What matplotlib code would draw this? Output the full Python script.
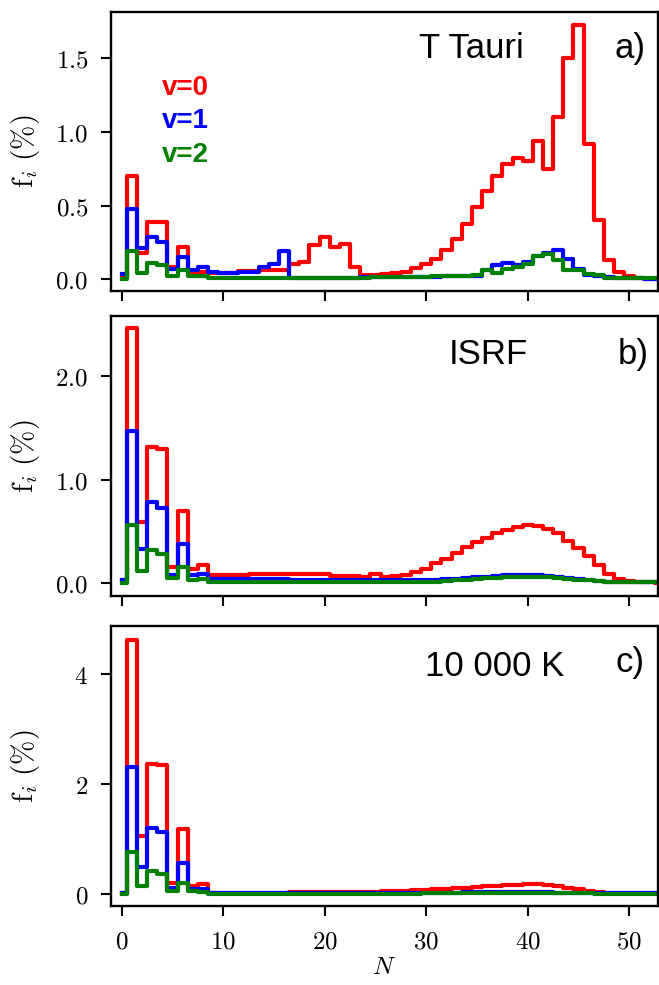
""" Level populations f_i against N for three radiation fields """

import matplotlib
matplotlib.use("Agg")
import matplotlib.pyplot as plt
from matplotlib.ticker import FuncFormatter

N_VALUES = list(range(54))

# T Tauri field
TTAU_V0 = [0.02, 0.70, 0.18, 0.39, 0.39, 0.08, 0.22, 0.05, 0.05, 0.04,
           0.045, 0.045, 0.055, 0.055, 0.065, 0.065, 0.06, 0.10, 0.12, 0.23,
           0.29, 0.22, 0.24, 0.08, 0.03, 0.03, 0.035, 0.04, 0.05, 0.075,
           0.10, 0.14, 0.20, 0.27, 0.375, 0.49, 0.60, 0.70, 0.78, 0.82,
           0.80, 0.94, 0.75, 1.10, 1.50, 1.73, 0.92, 0.40, 0.13, 0.05,
           0.02, 0.005, 0.003, 0.002]
TTAU_V1 = [0.035, 0.48, 0.21, 0.285, 0.255, 0.07, 0.15, 0.06, 0.08, 0.05,
           0.045, 0.045, 0.05, 0.05, 0.08, 0.10, 0.19, 0.01, 0.01, 0.01,
           0.01, 0.01, 0.01, 0.01, 0.012, 0.012, 0.012, 0.012, 0.015, 0.015,
           0.015, 0.018, 0.02, 0.02, 0.022, 0.025, 0.06, 0.095, 0.11, 0.095,
           0.12, 0.16, 0.18, 0.20, 0.14, 0.07, 0.03, 0.02, 0.012, 0.008,
           0.006, 0.005, 0.004, 0.003]
TTAU_V2 = [0.0, 0.19, 0.04, 0.11, 0.095, 0.02, 0.065, 0.02, 0.02, 0.01,
           0.008, 0.008, 0.008, 0.008, 0.008, 0.008, 0.008, 0.008, 0.008, 0.008,
           0.008, 0.008, 0.008, 0.01, 0.01, 0.012, 0.012, 0.015, 0.015, 0.018,
           0.018, 0.02, 0.02, 0.022, 0.025, 0.03, 0.06, 0.045, 0.07, 0.08,
           0.10, 0.155, 0.17, 0.13, 0.06, 0.06, 0.035, 0.03, 0.01, 0.008,
           0.006, 0.006, 0.006, 0.006]

# ISRF
ISRF_V0 = [0.03, 2.46, 0.59, 1.31, 1.30, 0.155, 0.70, 0.14, 0.17, 0.075,
           0.075, 0.075, 0.075, 0.09, 0.09, 0.09, 0.09, 0.09, 0.09, 0.09,
           0.09, 0.07, 0.07, 0.07, 0.06, 0.09, 0.06, 0.065, 0.075, 0.106,
           0.14, 0.19, 0.235, 0.29, 0.35, 0.40, 0.44, 0.48, 0.51, 0.54,
           0.557, 0.55, 0.525, 0.48, 0.41, 0.34, 0.26, 0.17, 0.09, 0.04,
           0.02, 0.01, 0.008, 0.005]
ISRF_V1 = [0.03, 1.47, 0.33, 0.78, 0.73, 0.075, 0.38, 0.075, 0.09, 0.04,
           0.04, 0.04, 0.04, 0.04, 0.04, 0.04, 0.04, 0.025, 0.025, 0.025,
           0.025, 0.025, 0.025, 0.025, 0.025, 0.025, 0.025, 0.025, 0.025, 0.025,
           0.028, 0.03, 0.035, 0.04, 0.05, 0.055, 0.06, 0.07, 0.075, 0.08,
           0.08, 0.075, 0.07, 0.06, 0.05, 0.04, 0.03, 0.02, 0.015, 0.01,
           0.008, 0.008, 0.008, 0.008]
ISRF_V2 = [0.0, 0.557, 0.12, 0.32, 0.28, 0.05, 0.16, 0.03, 0.04, 0.01,
           0.01, 0.01, 0.01, 0.01, 0.01, 0.01, 0.01, 0.01, 0.01, 0.01,
           0.01, 0.01, 0.01, 0.01, 0.01, 0.01, 0.01, 0.012, 0.012, 0.012,
           0.013, 0.015, 0.02, 0.025, 0.03, 0.04, 0.045, 0.05, 0.055, 0.06,
           0.06, 0.06, 0.055, 0.05, 0.04, 0.03, 0.025, 0.02, 0.015, 0.01,
           0.008, 0.008, 0.008, 0.008]

# 10 000 K blackbody
HOT_V0 = [0.02, 4.62, 1.05, 2.37, 2.35, 0.20, 1.18, 0.15, 0.19, 0.03,
          0.03, 0.03, 0.03, 0.03, 0.03, 0.03, 0.03, 0.035, 0.035, 0.035,
          0.035, 0.035, 0.035, 0.04, 0.04, 0.04, 0.05, 0.055, 0.06, 0.07,
          0.08, 0.09, 0.10, 0.11, 0.12, 0.13, 0.14, 0.155, 0.165, 0.175,
          0.18, 0.18, 0.17, 0.15, 0.12, 0.09, 0.06, 0.04, 0.03, 0.02,
          0.02, 0.02, 0.02, 0.02]
HOT_V1 = [0.02, 2.32, 0.49, 1.20, 1.14, 0.11, 0.56, 0.10, 0.10, 0.02,
          0.02, 0.02, 0.02, 0.02, 0.02, 0.02, 0.02, 0.02, 0.02, 0.02,
          0.02, 0.02, 0.02, 0.02, 0.02, 0.02, 0.02, 0.02, 0.02, 0.02,
          0.022, 0.025, 0.028, 0.03, 0.032, 0.035, 0.037, 0.04, 0.04, 0.04,
          0.04, 0.038, 0.035, 0.03, 0.025, 0.02, 0.02, 0.018, 0.015, 0.015,
          0.015, 0.015, 0.015, 0.015]
HOT_V2 = [0.0, 0.76, 0.14, 0.43, 0.37, 0.05, 0.21, 0.05, 0.04, 0.01,
          0.01, 0.01, 0.01, 0.01, 0.01, 0.01, 0.01, 0.01, 0.01, 0.01,
          0.01, 0.01, 0.01, 0.01, 0.01, 0.01, 0.01, 0.01, 0.01, 0.012,
          0.014, 0.016, 0.018, 0.02, 0.022, 0.024, 0.025, 0.026, 0.027, 0.028,
          0.028, 0.027, 0.025, 0.022, 0.02, 0.016, 0.014, 0.012, 0.01, 0.01,
          0.01, 0.01, 0.01, 0.01]

FIELD_NAMES   = ["T Tauri", "ISRF", "10 000 K"]
PANEL_LABELS  = ["a)", "b)", "c)"]
LEVEL_LABELS  = ["v=0", "v=1", "v=2"]
LEVEL_COLORS  = ["red", "blue", "green"]
Y_TICKS       = [[0.0, 0.5, 1.0, 1.5], [0.0, 1.0, 2.0], [0, 2, 4]]
Y_FORMATS     = ["{:.1f}", "{:.1f}", "{:.0f}"]
X_TICKS       = [0, 10, 20, 30, 40, 50]

SANS = "Liberation Sans"


def plot_panels():
    """ Three stacked step plots """
    plt.rcParams["mathtext.fontset"] = "cm"
    fig = plt.figure(figsize=(6.59, 9.85), dpi=100)

    series = [[TTAU_V0, TTAU_V1, TTAU_V2],
              [ISRF_V0, ISRF_V1, ISRF_V2],
              [HOT_V0, HOT_V1, HOT_V2]]
    # axes boxes in figure fraction, ylims
    boxes = [[0.1677, 0.7046, 0.8303, 0.2832],
             [0.1677, 0.3949, 0.8303, 0.2843],
             [0.1677, 0.0802, 0.8303, 0.2843]]
    ylims = [(-0.08, 1.815), (-0.125, 2.58), (-0.215, 4.88)]
    name_pos = [(0.66, 0.871), (0.69, 0.861), (0.702, 0.854)]
    lab_pos = [(0.949, 0.871), (0.955, 0.861), (0.949, 0.87)]

    for i in range(3):
        ax = fig.add_axes(boxes[i])
        for vals, col in zip(series[i], LEVEL_COLORS):
            ax.plot(N_VALUES, vals, drawstyle="steps-mid", color=col, lw=3)

        ax.set_xlim(-1.1, 52.8)
        ax.set_ylim(*ylims[i])
        ax.set_xticks(X_TICKS)
        ax.set_yticks(Y_TICKS[i])
        fmt = Y_FORMATS[i]
        ax.yaxis.set_major_formatter(
            FuncFormatter(lambda v, p, fmt=fmt: "$" + fmt.format(v) + "$"))
        ax.xaxis.set_major_formatter(
            FuncFormatter(lambda v, p: "$%d$" % v))
        ax.tick_params(direction="out", length=7, width=1.5, labelsize=18)
        ax.tick_params(axis="y", pad=9)
        ax.tick_params(axis="x", pad=10)
        if i < 2:
            ax.tick_params(labelbottom=False)
        for sp in ax.spines.values():
            sp.set_linewidth(1.7)

        ax.set_ylabel(r"$\mathrm{f}_i\ (\%)$", fontsize=21)
        ax.yaxis.set_label_coords(-0.125, 0.5)

        ax.text(name_pos[i][0], name_pos[i][1], FIELD_NAMES[i],
                transform=ax.transAxes, ha="center", va="center",
                fontsize=25, family=SANS)
        ax.text(lab_pos[i][0], lab_pos[i][1], PANEL_LABELS[i],
                transform=ax.transAxes, ha="center", va="center",
                fontsize=25, family=SANS)

        if i == 0:
            for k, (txt, col) in enumerate(zip(LEVEL_LABELS, LEVEL_COLORS)):
                ax.text(0.094, 0.728 - k * 0.12, txt, transform=ax.transAxes,
                        ha="left", va="center", color=col, fontsize=20,
                        fontweight="bold", family=SANS)
        if i == 2:
            ax.set_xlabel("$N$", fontsize=18, labelpad=1)

    fig.savefig("out.png", dpi=100)


if __name__ == "__main__":
    plot_panels()
